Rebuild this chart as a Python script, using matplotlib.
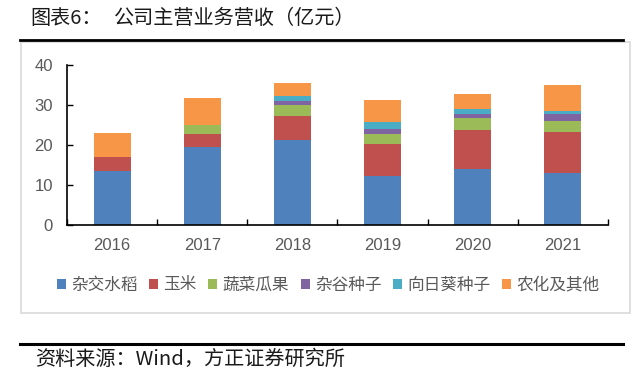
import matplotlib.pyplot as plt
import numpy as np
from matplotlib.lines import Line2D
from matplotlib.patches import Rectangle

plt.rcParams['font.family'] = ['Noto Sans CJK SC', 'DejaVu Sans']

years = ['2016', '2017', '2018', '2019', '2020', '2021']
series_names = ['杂交水稻', '玉米', '蔬菜瓜果', '杂谷种子', '向日葵种子', '农化及其他']
rice = [13.6, 19.4, 21.2, 12.3, 13.9, 12.9]
corn = [3.5, 3.3, 6.05, 7.9, 9.85, 10.3]
veg = [0.0, 2.2, 2.75, 2.55, 3.0, 2.8]
millet = [0.0, 0.0, 1.1, 1.25, 1.05, 1.75]
sunflower = [0.0, 0.0, 1.2, 1.8, 1.2, 0.75]
other = [5.8, 6.9, 3.3, 5.5, 3.8, 6.4]
colors = ['#4F81BD', '#C0504D', '#9BBB59', '#8064A2', '#4BACC6', '#F79646']

fig = plt.figure(figsize=(6.41, 3.85), dpi=100)
ax = fig.add_axes([67 / 641, 160 / 385, 541 / 641, 160 / 385])

x = np.arange(len(years))
bottom = np.zeros(len(years))
for name, vals, c in zip(series_names, [rice, corn, veg, millet, sunflower, other], colors):
    vals = np.array(vals)
    ax.bar(x, vals, 0.41, bottom=bottom, color=c, label=name, linewidth=0)
    bottom += vals

ax.set_xlim(-0.5, len(years) - 0.5)
ax.set_ylim(0, 40)
ax.set_yticks([0, 10, 20, 30, 40])
ax.set_xticks(x)
ax.set_xticklabels(years)
ax.set_xticks(np.arange(-0.5, len(years)), minor=True)
ax.tick_params(axis='x', which='major', length=0, pad=9, labelsize=12, labelcolor='#595959')
ax.tick_params(axis='x', which='minor', direction='in', length=4, width=1)
ax.tick_params(axis='y', direction='in', length=4, width=1, pad=10, labelsize=12, labelcolor='#595959')
for lab in ax.get_xticklabels() + ax.get_yticklabels():
    lab.set_fontfamily('Liberation Sans')
ax.spines['top'].set_visible(False)
ax.spines['right'].set_visible(False)
ax.spines['left'].set_linewidth(1.2)
ax.spines['bottom'].set_linewidth(1.2)

leg = fig.legend(loc='center', bbox_to_anchor=(328 / 641, 1 - 285 / 385), ncol=6, frameon=False,
                 fontsize=12, handlelength=0.55, handleheight=0.55, handletextpad=0.3,
                 columnspacing=0.7, labelcolor='#595959')

# frame and rules
fig.add_artist(Rectangle((21 / 641, 1 - 313 / 385), 609 / 641, 271 / 385, transform=fig.transFigure,
                         fill=False, edgecolor='#d9d9d9', linewidth=1.2))
fig.add_artist(Line2D([20 / 641, 623 / 641], [1 - 39.5 / 385] * 2, transform=fig.transFigure,
                      color='black', linewidth=2))
fig.add_artist(Line2D([20 / 641, 623 / 641], [1 - 344 / 385] * 2, transform=fig.transFigure,
                      color='black', linewidth=2.2))

fig.text(30 / 641, 1 - 19 / 385, '图表6：', fontsize=14.5, va='center', ha='left', color='#1a1a1a')
fig.text(114 / 641, 1 - 19 / 385, '公司主营业务营收（亿元）', fontsize=14.5, va='center', ha='left',
         color='#1a1a1a')
fig.text(35 / 641, 1 - 359 / 385, '资料来源：Wind，方正证券研究所', fontsize=14.5, va='center', ha='left',
         color='#1a1a1a', style='italic')

fig.savefig('out.png', dpi=100)
